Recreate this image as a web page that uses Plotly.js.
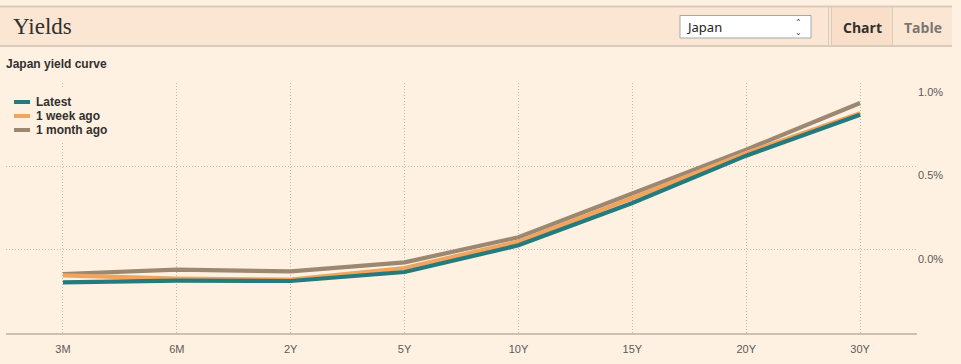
<!DOCTYPE html>
<html>
<head>
<meta charset="utf-8">
<script src="https://cdn.plot.ly/plotly-3.0.1.min.js"></script>
<style>
  html, body { margin: 0; padding: 0; background: #fef1e2; }
  #chart { width: 961px; height: 364px; }
</style>
</head>
<body>
<div id="chart"></div>
<script>
// ---- data ----
const maturities = ["3M", "6M", "2Y", "5Y", "10Y", "15Y", "20Y", "30Y"];
const latest     = [-0.196, -0.186, -0.188, -0.134, 0.026, 0.280, 0.564, 0.810];
const weekAgo    = [-0.154, -0.174, -0.180, -0.110, 0.048, 0.310, 0.580, 0.818];
const monthAgo   = [-0.146, -0.120, -0.130, -0.076, 0.074, 0.340, 0.600, 0.880];
const yTicks     = [0, 0.5, 1.0];
const yTickText  = ["0.0%", "0.5%", "1.0%"];
const seriesNames = ["Latest", "1 week ago", "1 month ago"];

// ---- styling ----
const BG = "#fef1e2";
const INK = "#33302e";
const GREY = "#5f5955";
const GRID = "#c4b8ab";
const colors = ["#257a7e", "#f2a45c", "#9c8870"];

// pixel helpers -> paper coordinates (plot area: x 6..917, y 83..333)
const L = 6, R = 44, T = 83, B = 31, W = 961, H = 364;
const PW = W - L - R, PH = H - T - B;
const X = p => (p - L) / PW;
const Y = p => (H - B - p) / PH;

const traces = [
  {x: maturities, y: monthAgo, name: seriesNames[2], type: "scatter", mode: "lines",
   line: {color: colors[2], width: 4.2}},
  {x: maturities, y: weekAgo, name: seriesNames[1], type: "scatter", mode: "lines",
   line: {color: colors[1], width: 4.2}},
  {x: maturities, y: latest, name: seriesNames[0], type: "scatter", mode: "lines",
   line: {color: colors[0], width: 4.2}}
];

const hdrLine = "#dacbbb";
const shapes = [
  {type: "rect", xref: "paper", yref: "paper", x0: X(0), x1: X(952), y0: Y(7), y1: Y(45.5),
   fillcolor: "#fbe6d4", line: {width: 0}, layer: "below"},
  {type: "rect", xref: "paper", yref: "paper", x0: X(832), x1: X(892), y0: Y(7), y1: Y(45.5),
   fillcolor: "#f9dfc9", line: {width: 0}, layer: "below"},
  {type: "line", xref: "paper", yref: "paper", x0: X(0), x1: X(952), y0: Y(6.5), y1: Y(6.5),
   line: {color: hdrLine, width: 2}},
  {type: "line", xref: "paper", yref: "paper", x0: X(0), x1: X(952), y0: Y(46), y1: Y(46),
   line: {color: hdrLine, width: 2}},
  {type: "line", xref: "paper", yref: "paper", x0: X(828.5), x1: X(828.5), y0: Y(7), y1: Y(45),
   line: {color: hdrLine, width: 1}},
  {type: "line", xref: "paper", yref: "paper", x0: X(831.5), x1: X(831.5), y0: Y(7), y1: Y(45),
   line: {color: hdrLine, width: 1}},
  {type: "line", xref: "paper", yref: "paper", x0: X(892.5), x1: X(892.5), y0: Y(7), y1: Y(45),
   line: {color: hdrLine, width: 1}},
  {type: "rect", xref: "paper", yref: "paper", x0: X(680), x1: X(811), y0: Y(15.5), y1: Y(38),
   fillcolor: "#ffffff", line: {color: "#a3a7ab", width: 1}},
  // legend backdrop (covers the gridline like the original legend box)
  {type: "rect", xref: "paper", yref: "paper", x0: X(8), x1: X(112), y0: Y(88), y1: Y(141),
   fillcolor: BG, line: {width: 0}, layer: "above"}
];

const annotations = [
  {text: "Yields", xref: "paper", yref: "paper", x: X(11), y: Y(26), xanchor: "left", yanchor: "middle",
   showarrow: false, font: {family: "Liberation Serif, serif", size: 23, color: INK}},
  {text: "Japan", xref: "paper", yref: "paper", x: X(684), y: Y(27), xanchor: "left", yanchor: "middle",
   showarrow: false, font: {family: "Noto Sans, sans-serif", size: 13, color: "#222222"}},
  {text: "⌃<br>⌄", xref: "paper", yref: "paper", x: X(798), y: Y(27), xanchor: "center", yanchor: "middle",
   showarrow: false, font: {family: "DejaVu Sans", size: 8, color: "#444444"}},
  {text: "Chart", xref: "paper", yref: "paper", x: X(862), y: Y(27), xanchor: "center", yanchor: "middle",
   showarrow: false, font: {family: "Open Sans, sans-serif", size: 14, color: INK, weight: "bold"}},
  {text: "Table", xref: "paper", yref: "paper", x: X(922.5), y: Y(27), xanchor: "center", yanchor: "middle",
   showarrow: false, font: {family: "Open Sans, sans-serif", size: 14, color: "#7b7570", weight: "bold"}}
];

// custom compact legend (swatch + label), built from the series names/colours
const legendRowY = [102, 116, 130];
seriesNames.forEach((name, i) => {
  shapes.push({type: "line", xref: "paper", yref: "paper", x0: X(14), x1: X(30),
               y0: Y(legendRowY[i]), y1: Y(legendRowY[i]),
               line: {color: colors[i], width: 4}, layer: "above"});
  annotations.push({text: name, xref: "paper", yref: "paper", x: X(34), y: Y(legendRowY[i]),
                    xanchor: "left", yanchor: "middle", showarrow: false,
                    font: {family: "Liberation Sans, Arial, sans-serif", size: 12, color: INK, weight: "bold"}});
});

const layout = {
  width: W, height: H,
  margin: {l: L, r: R, t: T, b: B, pad: 0},
  paper_bgcolor: BG, plot_bgcolor: BG,
  showlegend: false,
  title: {text: "Japan yield curve", x: X(6), xref: "paper", xanchor: "left",
          y: 1 - 64 / H, yref: "container", yanchor: "middle",
          font: {family: "Liberation Sans, Arial, sans-serif", size: 12, color: INK, weight: "bold"}},
  xaxis: {type: "category", range: [-0.5, 7.5], fixedrange: true,
          showgrid: true, gridcolor: GRID, griddash: "1px,2px", gridwidth: 1,
          showline: true, linecolor: "#cdc1b5", linewidth: 2,
          ticks: "", ticklabelstandoff: 5,
          tickfont: {family: "Liberation Sans, Arial, sans-serif", size: 11, color: GREY}},
  yaxis: {range: [-0.5, 1.0], side: "right", fixedrange: true,
          tickmode: "array", tickvals: yTicks, ticktext: yTickText,
          showgrid: true, gridcolor: GRID, griddash: "1px,2px", gridwidth: 1,
          zeroline: false, showline: false, ticks: "",
          ticklabelshift: 9, ticklabelstandoff: 0,
          tickfont: {family: "Liberation Sans, Arial, sans-serif", size: 11, color: GREY}},
  shapes: shapes,
  annotations: annotations
};

Plotly.newPlot("chart", traces, layout, {displayModeBar: false, staticPlot: true});
</script>
</body>
</html>
